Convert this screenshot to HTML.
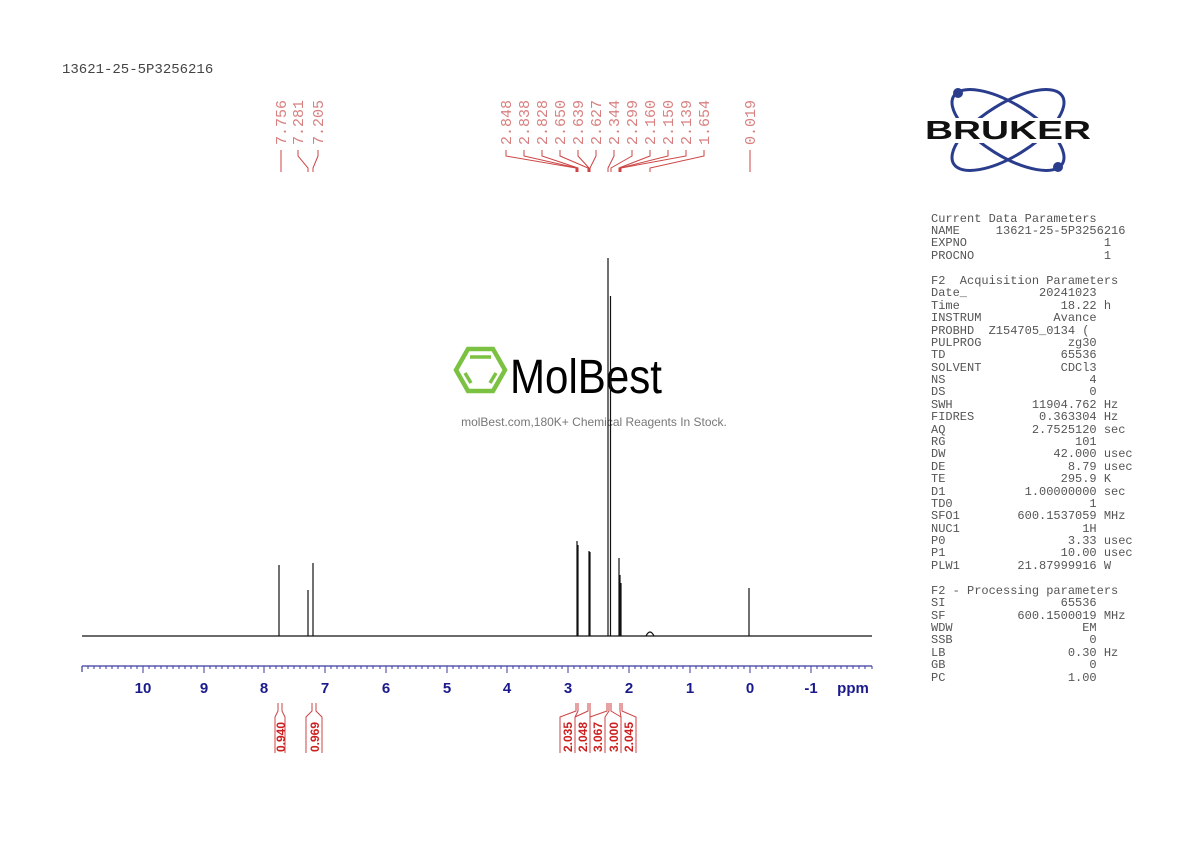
<!DOCTYPE html>
<html><head><meta charset="utf-8"><style>
body{margin:0;background:#fff;}
svg{display:block;}
.pk{font-family:"Liberation Mono",monospace;font-size:15px;fill:#d88080;}
.par{font-family:"Liberation Mono",monospace;font-size:12px;fill:#555;}
.ax{font-family:"Liberation Sans",sans-serif;font-weight:bold;font-size:15px;fill:#1a1a8c;}
.int{font-family:"Liberation Sans",sans-serif;font-weight:bold;font-size:12px;fill:#cc2020;}
</style></head><body>
<svg width="1190" height="842" viewBox="0 0 1190 842" xmlns="http://www.w3.org/2000/svg">
<text x="62" y="73" font-family="Liberation Mono,monospace" font-size="14" fill="#444">13621-25-5P3256216</text>

<g class="pk">
<text transform="translate(286,145) rotate(-90)">7.756</text>
<text transform="translate(303,145) rotate(-90)">7.281</text>
<text transform="translate(323,145) rotate(-90)">7.205</text>
<text transform="translate(511,145) rotate(-90)">2.848</text>
<text transform="translate(529,145) rotate(-90)">2.838</text>
<text transform="translate(547,145) rotate(-90)">2.828</text>
<text transform="translate(565,145) rotate(-90)">2.650</text>
<text transform="translate(583,145) rotate(-90)">2.639</text>
<text transform="translate(601,145) rotate(-90)">2.627</text>
<text transform="translate(619,145) rotate(-90)">2.344</text>
<text transform="translate(637,145) rotate(-90)">2.299</text>
<text transform="translate(655,145) rotate(-90)">2.160</text>
<text transform="translate(673,145) rotate(-90)">2.150</text>
<text transform="translate(691,145) rotate(-90)">2.139</text>
<text transform="translate(709,145) rotate(-90)">1.654</text>
<text transform="translate(755,145) rotate(-90)">0.019</text>
</g>
<g stroke="#cc4444" stroke-width="1" fill="none">
<path d="M281,150V172"/>
<path d="M298,150V156L308,168V172"/>
<path d="M318,150V156L313,168V172"/>
<path d="M506,150V156L576,168V172"/>
<path d="M524,150V156L577,168V172"/>
<path d="M542,150V156L578,168V172"/>
<path d="M560,150V156L588,168V172"/>
<path d="M578,150V156L589,168V172"/>
<path d="M596,150V156L590,168V172"/>
<path d="M614,150V156L608,168V172"/>
<path d="M632,150V156L611,168V172"/>
<path d="M650,150V156L619,168V172"/>
<path d="M668,150V156L620,168V172"/>
<path d="M686,150V156L621,168V172"/>
<path d="M704,150V156L650,168V172"/>
<path d="M750,150V172"/>
</g>

<g fill="none" stroke="#2a3c8c" stroke-width="3">
<ellipse cx="1008" cy="130" rx="64" ry="26" transform="rotate(-32 1008 130)"/>
<ellipse cx="1008" cy="130" rx="64" ry="26" transform="rotate(32 1008 130)"/>
</g>
<circle cx="958" cy="93" r="5" fill="#2a3c8c"/>
<circle cx="1058" cy="167" r="5" fill="#2a3c8c"/>
<rect x="924" y="118" width="168" height="25" fill="#fff"/>
<text x="925" y="139" textLength="166" lengthAdjust="spacingAndGlyphs" font-family="Liberation Sans,sans-serif" font-weight="bold" font-size="26" fill="#111">BRUKER</text>

<g class="par">
<text x="931" y="222">Current&#160;Data&#160;Parameters</text>
<text x="931" y="234">NAME&#160;&#160;&#160;&#160;&#160;13621-25-5P3256216</text>
<text x="931" y="246">EXPNO&#160;&#160;&#160;&#160;&#160;&#160;&#160;&#160;&#160;&#160;&#160;&#160;&#160;&#160;&#160;&#160;&#160;&#160;&#160;1</text>
<text x="931" y="259">PROCNO&#160;&#160;&#160;&#160;&#160;&#160;&#160;&#160;&#160;&#160;&#160;&#160;&#160;&#160;&#160;&#160;&#160;&#160;1</text>
<text x="931" y="284">F2&#160;&#160;Acquisition&#160;Parameters</text>
<text x="931" y="296">Date_&#160;&#160;&#160;&#160;&#160;&#160;&#160;&#160;&#160;&#160;20241023</text>
<text x="931" y="309">Time&#160;&#160;&#160;&#160;&#160;&#160;&#160;&#160;&#160;&#160;&#160;&#160;&#160;&#160;18.22&#160;h</text>
<text x="931" y="321">INSTRUM&#160;&#160;&#160;&#160;&#160;&#160;&#160;&#160;&#160;&#160;Avance</text>
<text x="931" y="334">PROBHD&#160;&#160;Z154705_0134&#160;(</text>
<text x="931" y="346">PULPROG&#160;&#160;&#160;&#160;&#160;&#160;&#160;&#160;&#160;&#160;&#160;&#160;zg30</text>
<text x="931" y="358">TD&#160;&#160;&#160;&#160;&#160;&#160;&#160;&#160;&#160;&#160;&#160;&#160;&#160;&#160;&#160;&#160;65536</text>
<text x="931" y="371">SOLVENT&#160;&#160;&#160;&#160;&#160;&#160;&#160;&#160;&#160;&#160;&#160;CDCl3</text>
<text x="931" y="383">NS&#160;&#160;&#160;&#160;&#160;&#160;&#160;&#160;&#160;&#160;&#160;&#160;&#160;&#160;&#160;&#160;&#160;&#160;&#160;&#160;4</text>
<text x="931" y="395">DS&#160;&#160;&#160;&#160;&#160;&#160;&#160;&#160;&#160;&#160;&#160;&#160;&#160;&#160;&#160;&#160;&#160;&#160;&#160;&#160;0</text>
<text x="931" y="408">SWH&#160;&#160;&#160;&#160;&#160;&#160;&#160;&#160;&#160;&#160;&#160;11904.762&#160;Hz</text>
<text x="931" y="420">FIDRES&#160;&#160;&#160;&#160;&#160;&#160;&#160;&#160;&#160;0.363304&#160;Hz</text>
<text x="931" y="433">AQ&#160;&#160;&#160;&#160;&#160;&#160;&#160;&#160;&#160;&#160;&#160;&#160;2.7525120&#160;sec</text>
<text x="931" y="445">RG&#160;&#160;&#160;&#160;&#160;&#160;&#160;&#160;&#160;&#160;&#160;&#160;&#160;&#160;&#160;&#160;&#160;&#160;101</text>
<text x="931" y="457">DW&#160;&#160;&#160;&#160;&#160;&#160;&#160;&#160;&#160;&#160;&#160;&#160;&#160;&#160;&#160;42.000&#160;usec</text>
<text x="931" y="470">DE&#160;&#160;&#160;&#160;&#160;&#160;&#160;&#160;&#160;&#160;&#160;&#160;&#160;&#160;&#160;&#160;&#160;8.79&#160;usec</text>
<text x="931" y="482">TE&#160;&#160;&#160;&#160;&#160;&#160;&#160;&#160;&#160;&#160;&#160;&#160;&#160;&#160;&#160;&#160;295.9&#160;K</text>
<text x="931" y="495">D1&#160;&#160;&#160;&#160;&#160;&#160;&#160;&#160;&#160;&#160;&#160;1.00000000&#160;sec</text>
<text x="931" y="507">TD0&#160;&#160;&#160;&#160;&#160;&#160;&#160;&#160;&#160;&#160;&#160;&#160;&#160;&#160;&#160;&#160;&#160;&#160;&#160;1</text>
<text x="931" y="519">SFO1&#160;&#160;&#160;&#160;&#160;&#160;&#160;&#160;600.1537059&#160;MHz</text>
<text x="931" y="532">NUC1&#160;&#160;&#160;&#160;&#160;&#160;&#160;&#160;&#160;&#160;&#160;&#160;&#160;&#160;&#160;&#160;&#160;1H</text>
<text x="931" y="544">P0&#160;&#160;&#160;&#160;&#160;&#160;&#160;&#160;&#160;&#160;&#160;&#160;&#160;&#160;&#160;&#160;&#160;3.33&#160;usec</text>
<text x="931" y="556">P1&#160;&#160;&#160;&#160;&#160;&#160;&#160;&#160;&#160;&#160;&#160;&#160;&#160;&#160;&#160;&#160;10.00&#160;usec</text>
<text x="931" y="569">PLW1&#160;&#160;&#160;&#160;&#160;&#160;&#160;&#160;21.87999916&#160;W</text>
<text x="931" y="594">F2&#160;-&#160;Processing&#160;parameters</text>
<text x="931" y="606">SI&#160;&#160;&#160;&#160;&#160;&#160;&#160;&#160;&#160;&#160;&#160;&#160;&#160;&#160;&#160;&#160;65536</text>
<text x="931" y="619">SF&#160;&#160;&#160;&#160;&#160;&#160;&#160;&#160;&#160;&#160;600.1500019&#160;MHz</text>
<text x="931" y="631">WDW&#160;&#160;&#160;&#160;&#160;&#160;&#160;&#160;&#160;&#160;&#160;&#160;&#160;&#160;&#160;&#160;&#160;&#160;EM</text>
<text x="931" y="643">SSB&#160;&#160;&#160;&#160;&#160;&#160;&#160;&#160;&#160;&#160;&#160;&#160;&#160;&#160;&#160;&#160;&#160;&#160;&#160;0</text>
<text x="931" y="656">LB&#160;&#160;&#160;&#160;&#160;&#160;&#160;&#160;&#160;&#160;&#160;&#160;&#160;&#160;&#160;&#160;&#160;0.30&#160;Hz</text>
<text x="931" y="668">GB&#160;&#160;&#160;&#160;&#160;&#160;&#160;&#160;&#160;&#160;&#160;&#160;&#160;&#160;&#160;&#160;&#160;&#160;&#160;&#160;0</text>
<text x="931" y="681">PC&#160;&#160;&#160;&#160;&#160;&#160;&#160;&#160;&#160;&#160;&#160;&#160;&#160;&#160;&#160;&#160;&#160;1.00</text>
</g>

<g fill="none" stroke="#7cc242" stroke-width="4.5">
<polygon points="456,370 468,349 493,349 505,370 493,391 468,391"/>
</g>
<g stroke="#7cc242" stroke-width="3.5"><path d="M470,357H491M465,373l6,10M496,373l-6,10"/></g>
<text x="510" y="393" font-family="Liberation Sans,sans-serif" font-size="48" fill="#000" textLength="152" lengthAdjust="spacingAndGlyphs">MolBest</text>
<text x="594" y="426" text-anchor="middle" font-family="Liberation Sans,sans-serif" font-size="12" fill="#777">molBest.com,180K+ Chemical Reagents In Stock.</text>

<g stroke="#111" stroke-width="1.2" fill="none">
<path d="M82,636H872"/>
<path d="M279,636V565M308,636V590M313,636V563"/>
<path d="M577,636V541M578,636V545M589,636V551M590,636V552"/>
<path d="M608,636V258M610.5,636V296"/>
<path d="M619,636V558M620,636V575M621,636V583"/>
<path d="M646,636Q650,628 654,636"/>
<path d="M749,636V588"/>
</g>

<g stroke="#3a3aa0" stroke-width="1.2">
<path d="M82,666H872M82,666v6"/>
</g>
<g class="ax" text-anchor="middle">
<text x="143" y="693">10</text><text x="204" y="693">9</text><text x="264" y="693">8</text>
<text x="325" y="693">7</text><text x="386" y="693">6</text><text x="447" y="693">5</text>
<text x="507" y="693">4</text><text x="568" y="693">3</text><text x="629" y="693">2</text>
<text x="690" y="693">1</text><text x="750" y="693">0</text><text x="811" y="693">-1</text>
<text x="853" y="693">ppm</text>
</g>

<g stroke="#cc4444" stroke-width="1" fill="none">
<path d="M278,703v8l-3,6v36M282,703v8l3,6v36"/>
<path d="M312,703v8l-6,6v36M316,703v8l6,6v36"/>
<path d="M576,703v8l-16,6v36M578,703v8l-3,6v36M588,703v8l-13,6v36M590,703v8l0,6v36"/>
<path d="M607,703v8l-17,6v36M609,703v8l-4,6v36M611,703v8l10,6v36M620,703v8l1,6v36M622,703v8l14,6v36"/>
</g>
<g class="int">
<text transform="translate(285,752) rotate(-90)">0.940</text>
<text transform="translate(319,752) rotate(-90)">0.969</text>
<text transform="translate(572,752) rotate(-90)">2.035</text>
<text transform="translate(587,752) rotate(-90)">2.048</text>
<text transform="translate(602,752) rotate(-90)">3.067</text>
<text transform="translate(618,752) rotate(-90)">3.000</text>
<text transform="translate(633,752) rotate(-90)">2.045</text>
</g>
<g stroke="#3a3aa0" stroke-width="1">
<path d="M143,666v7M204,666v7M264,666v7M325,666v7M386,666v7M447,666v7M507,666v7M568,666v7M629,666v7M690,666v7M750,666v7M811,666v7"/>
<path d="M88,666v3M94,666v3M100,666v3M106,666v3M112,666v3M118,666v3M125,666v3M131,666v3M137,666v3M149,666v3M155,666v3M161,666v3M167,666v3M173,666v3M179,666v3M185,666v3M191,666v3M197,666v3M210,666v3M216,666v3M222,666v3M228,666v3M234,666v3M240,666v3M246,666v3M252,666v3M258,666v3M270,666v3M276,666v3M282,666v3M288,666v3M294,666v3M300,666v3M306,666v3M313,666v3M319,666v3M331,666v3M337,666v3M343,666v3M349,666v3M355,666v3M361,666v3M367,666v3M373,666v3M380,666v3M392,666v3M398,666v3M404,666v3M410,666v3M416,666v3M422,666v3M428,666v3M434,666v3M440,666v3M453,666v3M459,666v3M465,666v3M471,666v3M477,666v3M483,666v3M489,666v3M495,666v3M501,666v3M513,666v3M519,666v3M525,666v3M531,666v3M537,666v3M544,666v3M550,666v3M556,666v3M562,666v3M574,666v3M580,666v3M586,666v3M592,666v3M598,666v3M604,666v3M610,666v3M617,666v3M623,666v3M635,666v3M641,666v3M647,666v3M653,666v3M659,666v3M665,666v3M671,666v3M677,666v3M683,666v3M696,666v3M702,666v3M708,666v3M714,666v3M720,666v3M726,666v3M732,666v3M738,666v3M744,666v3M756,666v3M762,666v3M768,666v3M774,666v3M780,666v3M787,666v3M793,666v3M799,666v3M805,666v3M817,666v3M823,666v3M829,666v3M835,666v3M841,666v3M847,666v3M853,666v3M859,666v3M865,666v3M872,666v3"/>
</g>
</svg>
</body></html>
